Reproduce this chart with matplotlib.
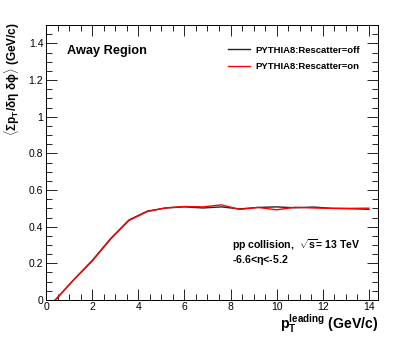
import numpy as np
import matplotlib
matplotlib.use("Agg")
import matplotlib.pyplot as plt
from matplotlib.ticker import MultipleLocator

plt.rcParams["font.family"] = ["Liberation Sans", "DejaVu Sans"]
plt.rcParams["mathtext.fontset"] = "custom"
plt.rcParams["mathtext.rm"] = "Liberation Sans:bold"
plt.rcParams["mathtext.bf"] = "Liberation Sans:bold"
plt.rcParams["mathtext.it"] = "Liberation Sans:bold"

# leading pT bin centres (GeV/c)
pt_leading = [0.4, 1.2, 2.0, 2.8, 3.6, 4.4, 5.2, 6.0, 6.8, 7.6, 8.4, 9.2,
              10.0, 10.8, 11.6, 12.4, 13.2, 14.0]
# <sum pT / deta dphi> (GeV/c)
rescatter_off = [0.0, 0.110, 0.215, 0.335, 0.437, 0.485, 0.502, 0.508, 0.502,
                 0.508, 0.497, 0.505, 0.508, 0.503, 0.507, 0.500, 0.498, 0.495]
rescatter_on = [0.0, 0.110, 0.212, 0.332, 0.434, 0.483, 0.503, 0.510, 0.508,
                0.519, 0.494, 0.505, 0.492, 0.506, 0.502, 0.500, 0.500, 0.501]
labels = ["PYTHIA8:Rescatter=off", "PYTHIA8:Rescatter=on"]

fig = plt.figure(figsize=(4.15, 3.44), dpi=100)
ax = fig.add_axes([0.111, 0.128, 0.8, 0.799])

ax.plot(pt_leading, rescatter_off, color="#222222", lw=1.0, label=labels[0])
ax.plot(pt_leading, rescatter_on, color="#ff0000", lw=1.0, label=labels[1])

ax.set_xlim(0, 14.4)
ax.set_ylim(0, 1.5)
ax.xaxis.set_major_locator(MultipleLocator(2))
ax.xaxis.set_minor_locator(MultipleLocator(0.5))
ax.yaxis.set_minor_locator(MultipleLocator(0.05))
ax.set_yticks([0, 0.2, 0.4, 0.6, 0.8, 1.0, 1.2, 1.4])
ax.set_yticklabels(["0", "0.2", "0.4", "0.6", "0.8", "1", "1.2", "1.4"])
ax.tick_params(which="both", direction="in", top=True, right=True,
               labelsize=7.5, pad=2, width=0.6)
ax.tick_params(axis="x", pad=1.5)
ax.tick_params(which="major", length=8)
ax.tick_params(which="minor", length=4)
for s in ax.spines.values():
    s.set_linewidth(0.7)

ax.text(0.062, 0.905, "Away Region", transform=ax.transAxes,
        fontsize=9.2, fontweight="bold", va="center")
ax.text(0.56, 0.2, r"pp collision,  $\sqrt{s}$= 13 TeV", transform=ax.transAxes,
        fontsize=7.6, fontweight="bold", va="center")
ax.text(0.56, 0.145, r"-6.6<$\eta$<-5.2", transform=ax.transAxes,
        fontsize=7.6, fontweight="bold", va="center")

ax.legend(loc="upper left", bbox_to_anchor=(0.548, 0.925), frameon=False,
          borderpad=0, borderaxespad=0, handlelength=2.3, handletextpad=0.6,
          labelspacing=0.75, prop={"weight": "bold", "size": 6.8})

fig.text(0.911, 0.042, r"$\mathbf{p}_{\mathbf{T}}^{\mathbf{leading}}$ (GeV/c)",
         ha="right", va="baseline", fontsize=10.2, fontweight="bold")
fig.text(0.03, 0.935, r"$\langle\Sigma\mathbf{p}_{\mathbf{T}}/\delta\eta\ \delta\phi\rangle$ (GeV/c)",
         rotation=90, ha="center", va="top", fontsize=8.5, fontweight="bold")

fig.savefig("out.png", dpi=100)
